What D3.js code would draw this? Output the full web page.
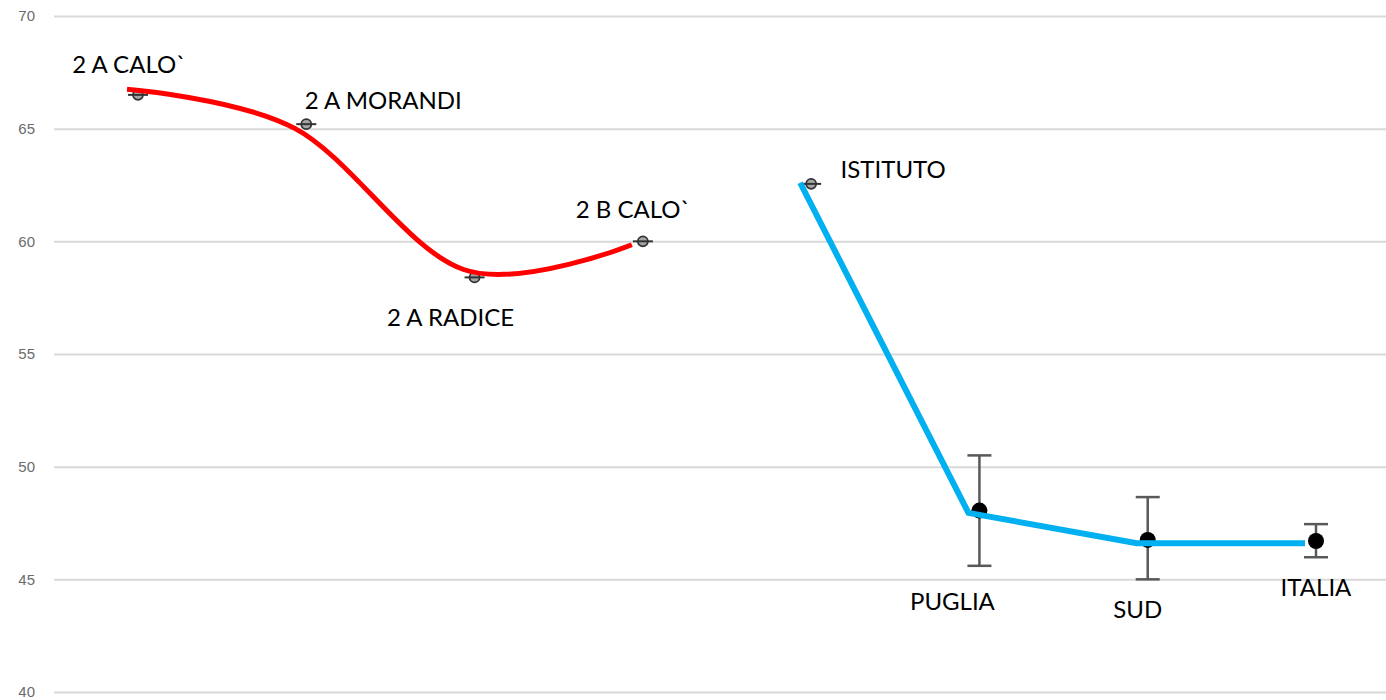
<!DOCTYPE html>
<html><head><meta charset="utf-8">
<script src="https://cdn.jsdelivr.net/npm/d3@7"></script>
<style>html,body{margin:0;padding:0;background:#fff;}svg{display:block;}</style>
</head><body>
<svg id="chart" width="1386" height="700"></svg>
<script>
// ---- data ----
const categories = ["2 A CALO`", "2 A MORANDI", "2 A RADICE", "2 B CALO`", "ISTITUTO", "PUGLIA", "SUD", "ITALIA"];
const pointValues = [66.5, 65.2, 58.4, 60.0, 62.55, 48.05, 46.75, 46.7];
const errLow = [66.5, 65.2, 58.4, 60.0, 62.55, 45.6, 45.0, 45.98];
const errHigh = [66.5, 65.2, 58.4, 60.0, 62.55, 50.5, 48.65, 47.45];
const classCats = ["2 A CALO`", "2 A MORANDI", "2 A RADICE", "2 B CALO`"];
const classLine = [66.75, 65.0, 58.75, 59.85];
const refCats = ["ISTITUTO", "PUGLIA", "SUD", "ITALIA"];
const refLine = [62.6, 47.95, 46.6, 46.6];
const yTicks = [40, 45, 50, 55, 60, 65, 70];

// ---- layout / style ----
const labelOffsets = [[-9,-22],[77,-15],[-24,49],[-10,-23],[82,-6],[-27,99],[-10,78],[0,55]];
const svg = d3.select("#chart");
const x = d3.scalePoint().domain(categories).range([138, 1316]);
const y = d3.scaleLinear().domain([40, 70]).range([692, 16]);

// gridlines + y labels
const yAxis = d3.axisLeft(y).tickValues(yTicks).tickSize(-(1386-54)).tickPadding(19);
const ga = svg.append("g").attr("transform", "translate(54,0)").call(yAxis);
ga.select(".domain").remove();
ga.selectAll(".tick line").attr("stroke", "#d9d9d9").attr("stroke-width", 2);
ga.selectAll(".tick text").attr("fill", "#6b6b6b").attr("font-family", "Arial, 'Liberation Sans', sans-serif").attr("font-size", 15);

// error bars
const idx = d3.range(categories.length);
const eb = svg.append("g");
idx.filter(i => i >= 5).forEach(i => {
  const cx = x(categories[i]);
  eb.append("line").attr("x1", cx).attr("x2", cx).attr("y1", y(errLow[i])).attr("y2", y(errHigh[i])).attr("stroke", "#595959").attr("stroke-width", 2.5);
  [errLow[i], errHigh[i]].forEach(v => eb.append("line").attr("x1", cx-12).attr("x2", cx+12).attr("y1", y(v)).attr("y2", y(v)).attr("stroke", "#595959").attr("stroke-width", 2.5));
});

// markers
idx.forEach(i => {
  const cx = x(categories[i]), cy = y(pointValues[i]);
  if (i < 5) {
    svg.append("circle").attr("cx", cx).attr("cy", cy).attr("r", 5).attr("fill", "#a6a6a6").attr("stroke", "#333").attr("stroke-width", 1.8);
    svg.append("line").attr("x1", cx-10).attr("x2", cx+10).attr("y1", cy).attr("y2", cy).attr("stroke", "#333").attr("stroke-width", 2);
  } else {
    svg.append("circle").attr("cx", cx).attr("cy", cy).attr("r", 8).attr("fill", "#000");
  }
});

// lines
const redLine = d3.line().x(d => x(d[0]) - 11).y(d => y(d[1])).curve(d3.curveCardinal.tension(0));
svg.append("path").datum(classCats.map((c, i) => [c, classLine[i]])).attr("d", redLine)
  .attr("fill", "none").attr("stroke", "#ff0000").attr("stroke-width", 5);
const blueLine = d3.line().x(d => x(d[0]) - 11).y(d => y(d[1]));
svg.append("path").datum(refCats.map((c, i) => [c, refLine[i]])).attr("d", blueLine)
  .attr("fill", "none").attr("stroke", "#00b0f0").attr("stroke-width", 6).attr("stroke-linejoin", "miter");

// labels
idx.forEach(i => {
  svg.append("text").attr("x", x(categories[i]) + labelOffsets[i][0]).attr("y", y(pointValues[i]) + labelOffsets[i][1])
    .attr("text-anchor", "middle").attr("font-family", "Lato, 'Open Sans', sans-serif").attr("font-size", 24).attr("fill", "#000")
    .text(categories[i]);
});
</script>
</body></html>
